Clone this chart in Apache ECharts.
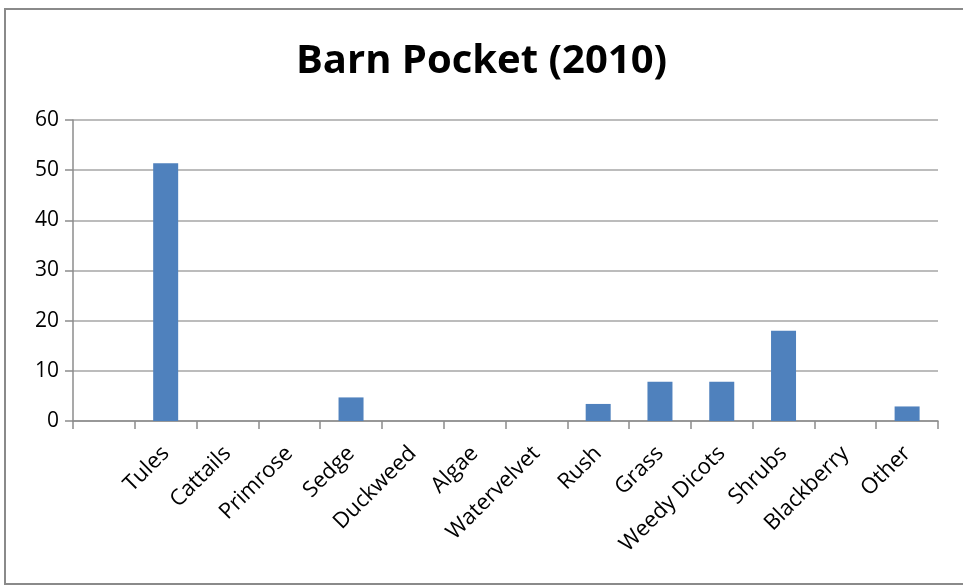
<!DOCTYPE html>
<html>
<head>
<meta charset="utf-8">
<script src="https://cdn.jsdelivr.net/npm/echarts@6/dist/echarts.min.js"></script>
<style>
  html, body { margin: 0; padding: 0; background: #fff; }
  #chart { width: 963px; height: 587px; }
</style>
</head>
<body>
<div id="chart"></div>
<script>
// Plant cover categories (the first slot is left blank on purpose)
const categories = ['', 'Tules', 'Cattails', 'Primrose', 'Sedge', 'Duckweed', 'Algae',
  'Watervelvet', 'Rush', 'Grass', 'Weedy Dicots', 'Shrubs', 'Blackberry', 'Other'];
// Percent cover per category
const coverValues = [null, 51.4, 0, 0, 4.7, 0, 0, 0, 3.4, 7.8, 7.8, 18.0, 0, 2.9];
const titleText = 'Barn Pocket (2010)';
const yMin = 0, yMax = 60, yStep = 10;

const chart = echarts.init(document.getElementById('chart'), null, { renderer: 'canvas' });
const FONT = '"Open Sans", sans-serif';

chart.setOption({
  animation: false,
  backgroundColor: '#ffffff',
  title: {
    text: titleText,
    left: 'center',
    top: 37,
    textStyle: { fontFamily: FONT, fontWeight: 'bold', fontSize: 40, color: '#000' }
  },
  graphic: [{
    type: 'rect',
    shape: { x: 5, y: 9, width: 980, height: 575 },
    style: { fill: 'none', stroke: '#8a8a8a', lineWidth: 2 },
    silent: true
  }],
  grid: { left: 73, right: 25, top: 120, bottom: 166, containLabel: false },
  xAxis: {
    type: 'category',
    data: categories,
    boundaryGap: true,
    axisLine: { lineStyle: { color: '#8c8c8c', width: 1.5 } },
    axisTick: { show: true, length: 8, alignWithLabel: false, lineStyle: { color: '#8c8c8c', width: 1.5 } },
    axisLabel: {
      interval: 0, rotate: 45, margin: 29,
      fontFamily: FONT, fontSize: 22, color: '#000'
    },
    splitLine: { show: false }
  },
  yAxis: {
    type: 'value',
    min: yMin, max: yMax, interval: yStep,
    axisLine: { show: true, lineStyle: { color: '#8c8c8c', width: 1.5 } },
    axisTick: { show: true, length: 8, lineStyle: { color: '#8c8c8c', width: 1.5 } },
    axisLabel: { margin: 14, fontFamily: FONT, fontSize: 21, color: '#000' },
    splitLine: { show: true, lineStyle: { color: '#a6a6a6', width: 1.5 } }
  },
  series: [{
    type: 'bar',
    data: coverValues,
    barWidth: 25,
    itemStyle: { color: '#4F81BD' }
  }]
});
</script>
</body>
</html>
